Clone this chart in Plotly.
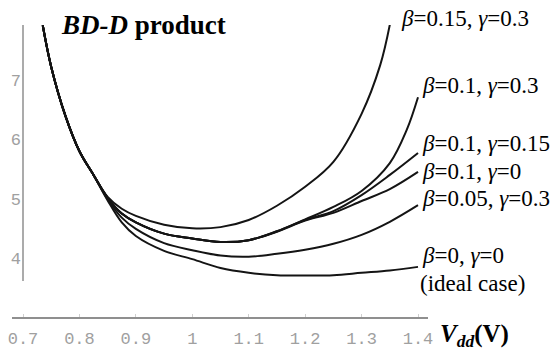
"""BD-D product versus supply voltage Vdd for several beta/gamma combinations."""

import plotly.graph_objects as go

# shared steep part of all curves (they overlap here)
X_COMMON = [0.735, 0.75, 0.775, 0.8, 0.825]
Y_COMMON = [7.92, 7.22, 6.40, 5.80, 5.40]

X_GRID = [0.85, 0.875, 0.9, 0.95, 1.0, 1.05, 1.1, 1.15, 1.2, 1.25, 1.3, 1.35, 1.4]

# beta=0.15, gamma=0.3 leaves the plot at the top before 1.4
X_B015 = [0.85, 0.875, 0.9, 0.95, 1.0, 1.05, 1.1, 1.15, 1.2, 1.25, 1.3, 1.333, 1.35]
Y_B015 = [5.03, 4.83, 4.71, 4.56, 4.50, 4.52, 4.64, 4.88, 5.20, 5.62, 6.43, 7.25, 7.93]

X_B01_G03 = [0.85, 0.875, 0.9, 0.95, 1.0, 1.05, 1.1, 1.15, 1.2, 1.25, 1.3, 1.35, 1.38, 1.4]
Y_B01_G03 = [5.01, 4.75, 4.60, 4.41, 4.33, 4.27, 4.30, 4.45, 4.65, 4.86, 5.13, 5.60, 6.16, 6.71]

Y_B01_G015 = [5.01, 4.75, 4.60, 4.41, 4.33, 4.27, 4.30, 4.45, 4.64, 4.79, 5.06, 5.40, 5.77]
Y_B01_G0 = [5.01, 4.75, 4.60, 4.41, 4.33, 4.27, 4.30, 4.44, 4.63, 4.76, 4.96, 5.16, 5.45]
Y_B005_G03 = [4.99, 4.68, 4.49, 4.25, 4.13, 4.04, 4.02, 4.07, 4.14, 4.24, 4.39, 4.61, 4.89]
Y_B0_G0 = [4.97, 4.60, 4.37, 4.12, 3.98, 3.83, 3.75, 3.71, 3.705, 3.71, 3.75, 3.79, 3.85]

CURVE_LABELS = [
    "<i>β</i>=0.15, <i>γ</i>=0.3",
    "<i>β</i>=0.1, <i>γ</i>=0.3",
    "<i>β</i>=0.1, <i>γ</i>=0.15",
    "<i>β</i>=0.1, <i>γ</i>=0",
    "<i>β</i>=0.05, <i>γ</i>=0.3",
    "<i>β</i>=0, <i>γ</i>=0",
    "(ideal case)",
]

X_TICKS = [0.7, 0.8, 0.9, 1.0, 1.1, 1.2, 1.3, 1.4]
X_TICK_TEXT = ["0.7", "0.8", "0.9", "1", "1.1", "1.2", "1.3", "1.4"]
Y_TICKS = [4, 5, 6, 7]

W, H = 553, 350
L, R, T, B = 12, 125, 25, 33
AXIS_GREY = "#8f8f8f"
TICK_FONT = {"family": "Liberation Mono", "size": 17, "color": "#a0a0a0"}
SERIF = "Liberation Serif"


def px_to_paper(px, py):
    return (px - L) / (W - L - R), (H - B - py) / (H - T - B)


series = [
    (X_B015, Y_B015),
    (X_B01_G03, Y_B01_G03),
    (X_GRID, Y_B01_G015),
    (X_GRID, Y_B01_G0),
    (X_GRID, Y_B005_G03),
    (X_GRID, Y_B0_G0),
]

fig = go.Figure()
for xs, ys in series:
    fig.add_trace(
        go.Scatter(
            x=X_COMMON + xs,
            y=Y_COMMON + ys,
            mode="lines",
            line={"color": "#141414", "width": 2, "shape": "spline", "smoothing": 1},
            hoverinfo="skip",
        )
    )

# y axis line only covers the plotted range, x axis sits lower
fig.add_shape(
    type="line", xref="x", yref="y", x0=0.7, x1=0.7, y0=3.61, y1=7.927,
    line={"color": AXIS_GREY, "width": 1.5}, layer="below",
)

label_pos = [(399, 18), (420, 85), (420, 143), (420, 171), (420, 199), (420, 256), (418, 283)]
for text, (px, py) in zip(CURVE_LABELS, label_pos):
    ax, ay = px_to_paper(px, py)
    fig.add_annotation(
        x=ax, y=ay, xref="paper", yref="paper", text=text, showarrow=False,
        xanchor="left", yanchor="middle", font={"family": SERIF, "size": 23, "color": "black"},
    )

tx, ty = px_to_paper(59, 25)
fig.add_annotation(
    x=tx, y=ty, xref="paper", yref="paper", text="<b><i>BD-D</i> product</b>",
    showarrow=False, xanchor="left", yanchor="middle",
    font={"family": SERIF, "size": 27, "color": "black"},
)
vx, vy = px_to_paper(438, 335)
fig.add_annotation(
    x=vx, y=vy, xref="paper", yref="paper", text="<b><i>V</i><sub><i>dd</i></sub>(V)</b>",
    showarrow=False, xanchor="left", yanchor="middle",
    font={"family": SERIF, "size": 25, "color": "black"},
)

fig.update_layout(
    width=W,
    height=H,
    margin={"l": L, "r": R, "t": T, "b": B, "autoexpand": False},
    paper_bgcolor="white",
    plot_bgcolor="white",
    showlegend=False,
    xaxis={
        "range": [0.6805, 1.4177],
        "tickvals": X_TICKS,
        "ticktext": X_TICK_TEXT,
        "showgrid": False,
        "zeroline": False,
        "showline": True,
        "linecolor": AXIS_GREY,
        "linewidth": 1.5,
        "ticks": "inside",
        "ticklen": 3,
        "tickcolor": "#d0d0d0",
        "tickfont": TICK_FONT,
        "ticklabelstandoff": 5,
    },
    yaxis={
        "range": [3.005, 7.927],
        "tickvals": Y_TICKS,
        "showgrid": False,
        "zeroline": False,
        "showline": False,
        "ticks": "",
        "anchor": "free",
        "position": (23 - L) / (W - L - R),
        "tickfont": TICK_FONT,
        "ticklabelstandoff": 2,
    },
)

# the page body has a default 8px margin, drop it so the figure fills the window
fig.write_html(
    "out.html",
    config={"displayModeBar": False},
    post_script="document.body.style.margin = '0';",
)
